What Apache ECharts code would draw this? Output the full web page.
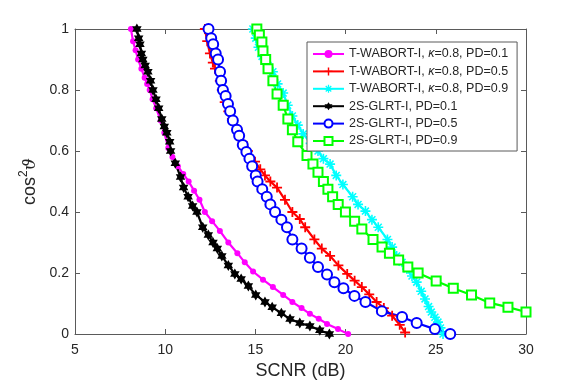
<!DOCTYPE html>
<html>
<head>
<meta charset="utf-8">
<script src="https://cdn.jsdelivr.net/npm/echarts@6/dist/echarts.min.js"></script>
<style>
  html, body { margin: 0; padding: 0; background: #fff; }
  #chart { width: 581px; height: 385px; }
</style>
</head>
<body>
<div id="chart"></div>
<script>
// [SCNR (dB), cos^2] pairs
const wabort01 = [[8.1,1],[8.22,0.96],[8.36,0.93],[8.5,0.9],[8.68,0.87],[8.86,0.84],[9.0,0.82],[9.14,0.8],[9.3,0.77],[9.5,0.74],[9.75,0.7],[9.95,0.66],[10.17,0.61],[10.4,0.58],[10.7,0.55],[11.0,0.525],[11.3,0.5],[11.6,0.47],[11.9,0.44],[12.2,0.4],[12.6,0.37],[13.03,0.338],[13.5,0.3],[14.0,0.265],[14.41,0.235],[14.87,0.205],[15.42,0.178],[15.97,0.154],[16.54,0.128],[17.05,0.105],[17.56,0.085],[18.02,0.066],[18.51,0.05],[18.97,0.033],[19.58,0.016],[20.14,0]]
const wabort05 = [[12.2,1],[12.33,0.96],[12.48,0.92],[12.64,0.89],[12.76,0.87],[13.03,0.83],[13.14,0.8],[13.3,0.76],[13.5,0.73],[13.7,0.705],[14.0,0.67],[14.3,0.63],[14.58,0.6],[14.98,0.565],[15.27,0.54],[15.53,0.52],[15.83,0.5],[16.2,0.48],[16.64,0.44],[17.05,0.4],[17.46,0.377],[17.76,0.35],[18.27,0.31],[18.68,0.28],[19.14,0.256],[19.6,0.225],[20.09,0.197],[20.5,0.175],[20.9,0.154],[21.31,0.13],[21.72,0.105],[22.12,0.085],[22.58,0.06],[23.0,0.03],[23.3,0.005]]
const wabort09 = [[14.86,1],[15.02,0.97],[15.17,0.94],[15.37,0.91],[15.63,0.89],[15.97,0.86],[16.23,0.82],[16.54,0.79],[16.79,0.75],[17.05,0.715],[17.35,0.685],[17.65,0.656],[18.06,0.625],[18.47,0.6],[18.77,0.575],[19.14,0.557],[19.48,0.52],[19.85,0.49],[20.39,0.45],[20.69,0.425],[21.1,0.403],[21.46,0.375],[21.81,0.35],[22.32,0.31],[22.58,0.285],[22.83,0.256],[23.13,0.235],[23.4,0.213],[23.68,0.19],[23.94,0.17],[24.19,0.14],[24.4,0.115],[24.6,0.09],[24.75,0.072],[24.95,0.055],[25.12,0.039],[25.26,0.02],[25.4,0]]
const glrt01 = [[8.43,1],[8.53,0.97],[8.6,0.95],[8.68,0.92],[8.76,0.9],[8.89,0.88],[9.04,0.86],[9.19,0.83],[9.32,0.8],[9.49,0.77],[9.64,0.74],[9.81,0.705],[9.95,0.68],[10.09,0.66],[10.25,0.63],[10.3,0.6],[10.56,0.56],[10.85,0.515],[11.02,0.48],[11.27,0.45],[11.52,0.42],[11.76,0.4],[12.08,0.35],[12.39,0.325],[12.65,0.3],[12.89,0.28],[13.14,0.256],[13.5,0.225],[13.86,0.197],[14.21,0.18],[14.61,0.157],[15.02,0.128],[15.53,0.105],[15.93,0.088],[16.44,0.068],[16.92,0.049],[17.46,0.036],[18.02,0.026],[18.57,0.012],[19.1,0]]
const glrt05 = [[12.4,1],[12.55,0.97],[12.66,0.95],[12.8,0.92],[12.93,0.9],[13.04,0.86],[13.1,0.83],[13.2,0.8],[13.35,0.78],[13.48,0.754],[13.6,0.73],[13.75,0.7],[13.98,0.67],[14.1,0.65],[14.3,0.62],[14.5,0.597],[14.67,0.575],[14.82,0.55],[15.02,0.52],[15.12,0.5],[15.38,0.475],[15.63,0.45],[15.83,0.425],[16.09,0.4],[16.44,0.375],[16.75,0.35],[17.05,0.31],[17.56,0.28],[18.02,0.25],[18.47,0.22],[18.97,0.195],[19.38,0.17],[19.88,0.15],[20.49,0.125],[21.1,0.105],[22.01,0.075],[23.13,0.056],[23.94,0.036],[24.95,0.016],[25.8,0]]
const glrt09 = [[15.08,1],[15.22,0.98],[15.36,0.957],[15.42,0.928],[15.57,0.9],[15.7,0.87],[15.97,0.83],[16.2,0.787],[16.54,0.75],[16.8,0.705],[17.05,0.67],[17.35,0.63],[17.86,0.585],[18.19,0.557],[18.47,0.53],[18.77,0.5],[19.02,0.475],[19.28,0.45],[19.59,0.425],[19.99,0.4],[20.5,0.37],[20.9,0.344],[21.52,0.31],[22.02,0.285],[22.43,0.265],[22.94,0.243],[23.45,0.22],[24.02,0.2],[25.02,0.174],[25.97,0.15],[26.98,0.128],[27.99,0.102],[29.0,0.088],[30.0,0.072]]

const xTicks = [5, 10, 15, 20, 25, 30]
const yTicks = [0, 0.2, 0.4, 0.6, 0.8, 1]

const FONT = '"Liberation Sans", Arial, Helvetica, sans-serif'
const AXIS_COLOR = '#5a5a5a'

// marker shapes (MATLAB style + * h)
const plusPath = 'path://M4.1,0H5.9V4.1H10V5.9H5.9V10H4.1V5.9H0V4.1H4.1Z'
const starPath = 'path://M4.2,0H5.8V4.2H10V5.8H5.8V10H4.2V5.8H0V4.2H4.2Z M1,2.1L2.1,1L9,7.9L7.9,9Z M7.9,1L9,2.1L2.1,9L1,7.9Z'
const hexPath = 'path://M5,0L6.44,2.5L9.33,2.5L7.89,5L9.33,7.5L6.44,7.5L5,10L3.56,7.5L0.67,7.5L2.11,5L0.67,2.5L3.56,2.5Z'

function makeSeries(name, data, color, symbol, size, extra) {
  return Object.assign({
    name: name,
    type: 'line',
    data: data,
    color: color,
    symbol: symbol,
    symbolSize: size,
    symbolKeepAspect: true,
    showAllSymbol: true,
    lineStyle: { width: 2.2, color: color },
    itemStyle: { color: color },
    emphasis: { disabled: true }
  }, extra || {})
}

const chart = echarts.init(document.getElementById('chart'))

const xAxisBase = {
  type: 'value',
  min: 5,
  max: 30,
  interval: 5,
  splitLine: { show: false },
  axisLine: { show: true, onZero: false, lineStyle: { color: AXIS_COLOR, width: 1 } },
  axisTick: { show: true, inside: true, length: 5, lineStyle: { color: AXIS_COLOR } }
}
const yAxisBase = {
  type: 'value',
  min: 0,
  max: 1,
  interval: 0.2,
  splitLine: { show: false },
  axisLine: { show: true, onZero: false, lineStyle: { color: AXIS_COLOR, width: 1 } },
  axisTick: { show: true, inside: true, length: 5, lineStyle: { color: AXIS_COLOR } }
}

chart.setOption({
  animation: false,
  backgroundColor: '#fff',
  textStyle: { fontFamily: FONT },
  grid: { left: 75, right: 55, top: 29, bottom: 51, containLabel: false },
  xAxis: [
    Object.assign({}, xAxisBase, {
      position: 'bottom',
      name: 'SCNR (dB)',
      nameLocation: 'middle',
      nameGap: 24,
      nameTextStyle: { fontSize: 18, color: '#262626', fontFamily: FONT },
      axisLabel: {
        margin: 9,
        fontSize: 14,
        color: '#262626',
        fontFamily: FONT,
        formatter: v => (xTicks.indexOf(v) >= 0 ? String(v) : '')
      }
    }),
    Object.assign({}, xAxisBase, { position: 'top', axisLabel: { show: false } })
  ],
  yAxis: [
    Object.assign({}, yAxisBase, {
      position: 'left',
      name: '{c|cos}{s|2}{t|ϑ}',
      nameLocation: 'middle',
      nameRotate: 90,
      nameGap: 29,
      nameTextStyle: {
        fontSize: 18,
        color: '#262626',
        fontFamily: FONT,
        rich: {
          c: { fontSize: 18, color: '#262626', fontFamily: FONT, lineHeight: 21, verticalAlign: 'bottom' },
          s: { fontSize: 12, color: '#262626', fontFamily: FONT, lineHeight: 21, verticalAlign: 'top' },
          t: { fontSize: 17, fontStyle: 'italic', fontFamily: '"DejaVu Serif", serif', color: '#262626', lineHeight: 21, verticalAlign: 'bottom' }
        }
      },
      axisLabel: {
        margin: 6,
        fontSize: 14,
        color: '#262626',
        fontFamily: FONT,
        formatter: v => (yTicks.indexOf(v) >= 0 ? String(v) : '')
      }
    }),
    Object.assign({}, yAxisBase, { position: 'right', axisLabel: { show: false } })
  ],
  legend: {
    orient: 'vertical',
    left: 307,
    top: 42,
    padding: [5, 9, 3, 5],
    itemGap: 3.4,
    itemWidth: 31,
    itemHeight: 10,
    backgroundColor: '#fff',
    borderColor: '#5a5a5a',
    borderWidth: 1,
    borderRadius: 0,
    selectedMode: false,
    formatter: name => name.replace('κ', '{k|κ}'),
    textStyle: {
      fontSize: 12.5,
      lineHeight: 14,
      color: '#262626',
      fontFamily: FONT,
      rich: { k: { fontSize: 12.5, fontStyle: 'italic', fontFamily: FONT, color: '#262626' } }
    },
    data: [
      'T-WABORT-I, κ=0.8, PD=0.1',
      'T-WABORT-I, κ=0.8, PD=0.5',
      'T-WABORT-I, κ=0.8, PD=0.9',
      '2S-GLRT-I, PD=0.1',
      '2S-GLRT-I, PD=0.5',
      '2S-GLRT-I, PD=0.9'
    ]
  },
  series: [
    makeSeries('T-WABORT-I, κ=0.8, PD=0.1', wabort01, '#ff00ff', 'circle', 6),
    makeSeries('T-WABORT-I, κ=0.8, PD=0.5', wabort05, '#ff0000', plusPath, 10),
    makeSeries('T-WABORT-I, κ=0.8, PD=0.9', wabort09, '#00ffff', starPath, 10),
    makeSeries('2S-GLRT-I, PD=0.1', glrt01, '#000000', hexPath, 11),
    makeSeries('2S-GLRT-I, PD=0.5', glrt05, '#0000ff', 'emptyCircle', 10, {
      itemStyle: { color: '#0000ff', borderColor: '#0000ff', borderWidth: 1.8 }
    }),
    makeSeries('2S-GLRT-I, PD=0.9', glrt09, '#00ff00', 'emptyRect', 9, {
      itemStyle: { color: '#00ff00', borderColor: '#00ff00', borderWidth: 1.8 }
    })
  ]
})
</script>
</body>
</html>
